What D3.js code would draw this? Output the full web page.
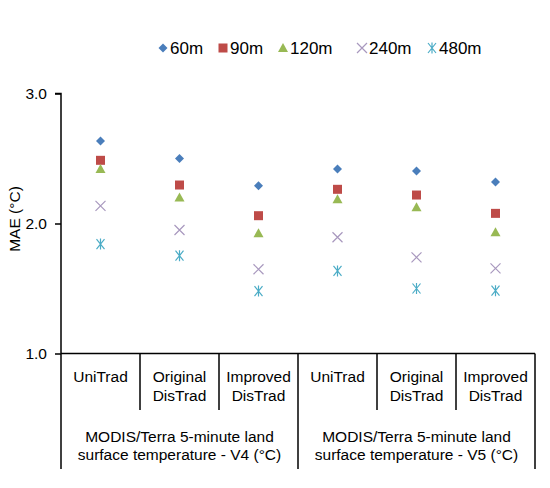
<!DOCTYPE html>
<html><head><meta charset="utf-8">
<script src="https://cdn.jsdelivr.net/npm/d3@7"></script>
<style>body{margin:0;background:#fff}svg{display:block;font-family:"Liberation Sans",Arial,sans-serif}</style>
</head><body><svg id="c" width="550" height="488"></svg>
<script>
const categories = ["UniTrad","Original DisTrad","Improved DisTrad","UniTrad ","Original DisTrad ","Improved DisTrad "];
const categoryLines = [["UniTrad"],["Original","DisTrad"],["Improved","DisTrad"],["UniTrad"],["Original","DisTrad"],["Improved","DisTrad"]];
const groups = [["MODIS/Terra 5-minute land","surface temperature - V4 (°C)"],["MODIS/Terra 5-minute land","surface temperature - V5 (°C)"]];
const seriesNames = ["60m","90m","120m","240m","480m"];
const s60  = [2.635,2.50,2.29,2.42,2.404,2.32];
const s90  = [2.486,2.296,2.06,2.263,2.219,2.078];
const s120 = [2.42,2.20,1.925,2.186,2.125,1.932];
const s240 = [2.135,1.95,1.648,1.894,1.74,1.655];
const s480 = [1.842,1.752,1.48,1.635,1.50,1.483];
const yTicks = [1.0,2.0,3.0];

const series = [s60,s90,s120,s240,s480];
const colors = ["#4A7EBB","#BE4B48","#98B954","#A898BE","#4BACC6"];
const shapes = ["diamond","square","triangle","x","star"];
const FS = 15.5;

const svg = d3.select("#c");
const L=61,R=535,T=93.5,B=353.5;
const x = d3.scaleBand().domain(categories).range([L,R]);
const y = d3.scaleLinear().domain([1,3]).range([B,T]);

function marker(g, shape, color, cx, cy){
  if(shape==="diamond"){
    g.append("path").attr("d",`M${cx},${cy-4.5}L${cx+4.5},${cy}L${cx},${cy+4.5}L${cx-4.5},${cy}Z`).attr("fill",color);
  } else if(shape==="square"){
    g.append("rect").attr("x",cx-4.5).attr("y",cy-4.5).attr("width",9).attr("height",9).attr("fill",color);
  } else if(shape==="triangle"){
    g.append("path").attr("d",`M${cx},${cy-5}L${cx+5},${cy+4}L${cx-5},${cy+4}Z`).attr("fill",color);
  } else if(shape==="x"){
    g.append("path").attr("d",`M${cx-5},${cy-5}L${cx+5},${cy+5}M${cx+5},${cy-5}L${cx-5},${cy+5}`).attr("stroke",color).attr("stroke-width",1.2);
  } else {
    g.append("path").attr("d",`M${cx-4},${cy-5}L${cx+4},${cy+5}M${cx+4},${cy-5}L${cx-4},${cy+5}M${cx},${cy-5.5}L${cx},${cy+5.5}`).attr("stroke",color).attr("stroke-width",1.2);
  }
}

// Y axis
const yAxis = d3.axisLeft(y).tickValues(yTicks).tickFormat(d3.format(".1f")).tickSize(6).tickPadding(8);
const ya = svg.append("g").attr("transform",`translate(${L},0)`).call(yAxis);
ya.select(".domain").attr("stroke","#000").attr("stroke-width",1.5).attr("d",`M-6,${T}H0V${B}`);
ya.selectAll(".tick line").attr("stroke","#000").attr("stroke-width",1.5);
ya.selectAll(".tick text").attr("font-size",FS).attr("fill","#000").attr("font-family","Liberation Sans, Arial, sans-serif");

svg.append("text").attr("transform",`translate(15,219) rotate(-90)`).attr("text-anchor","middle")
  .attr("dy","0.35em").attr("font-size",FS).text("MAE (°C)");

// X axis line
svg.append("line").attr("x1",L).attr("x2",R).attr("y1",B).attr("y2",B).attr("stroke","#000").attr("stroke-width",1.5);
categories.forEach((c,i)=>{
  const xx = x(c);
  const long = i%3===0;
  svg.append("line").attr("x1",xx).attr("x2",xx).attr("y1",B).attr("y2",long?469:410).attr("stroke","#000").attr("stroke-width",1.5);
});
svg.append("line").attr("x1",R).attr("x2",R).attr("y1",B).attr("y2",469).attr("stroke","#000").attr("stroke-width",1.5);

// category labels
categories.forEach((c,i)=>{
  const t = svg.append("text").attr("x",x(c)+x.bandwidth()/2).attr("y",382).attr("text-anchor","middle").attr("font-size",FS);
  categoryLines[i].forEach((ln,j)=>t.append("tspan").attr("x",x(c)+x.bandwidth()/2).attr("dy",j?19:0).text(ln));
});
groups.forEach((g,i)=>{
  const cx = x(categories[i*3+1])+x.bandwidth()/2;
  const t = svg.append("text").attr("x",cx).attr("y",442).attr("text-anchor","middle").attr("font-size",FS);
  g.forEach((ln,j)=>t.append("tspan").attr("x",cx).attr("dy",j?18:0).text(ln));
});

// points
series.forEach((s,si)=>{
  const g = svg.append("g");
  s.forEach((v,i)=>marker(g,shapes[si],colors[si],x(categories[i])+x.bandwidth()/2,y(v)));
});

// legend
const legX = [163,223,283,362,432];
seriesNames.forEach((n,i)=>{
  const g = svg.append("g");
  marker(g,shapes[i],colors[i],legX[i],48);
  g.append("text").attr("x",legX[i]+7).attr("y",48).attr("dy","0.36em").attr("font-size",17).text(n);
});
</script></body></html>
